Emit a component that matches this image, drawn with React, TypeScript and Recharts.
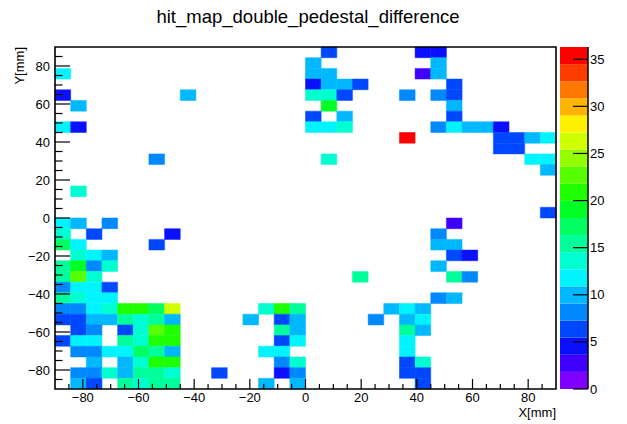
import { ScatterChart, XAxis, YAxis, ReferenceArea, BarChart, Bar } from "recharts";

const FONT = '"Liberation Sans", Arial, Helvetica, sans-serif';

const X_RANGE: [number, number] = [-90, 90];
const Y_RANGE: [number, number] = [-90, 90];
const N_BINS = 32;

// 20 contour colours, violet (low) to red (high)
const PALETTE = [
  "#7f00ff", "#4000ff", "#0a10ff", "#0048ff", "#0088ff",
  "#00b8ff", "#00f4ff", "#00ffd0", "#00ff9a", "#00ff60",
  "#00ff25", "#1eff00", "#58ff00", "#94ff00", "#d0ff00",
  "#fff000", "#ffb400", "#ff7800", "#ff3c00", "#ff0000",
];

const LABELLED_TICKS = [-80, -60, -40, -20, 0, 20, 40, 60, 80];
const PALETTE_TICKS = [0, 5, 10, 15, 20, 25, 30, 35];

// bin contents as [ix, iy, content]; bin indices start at the lower-left corner
const topLeftHits: [number, number, number][] = [
  [0, 29, 11.8], [0, 27, 4.6], [8, 27, 10.0], [1, 26, 9.8],
  [0, 24, 12.1], [1, 24, 4.4], [6, 21, 8.2], [1, 18, 13.5],
];

const topCenterHits: [number, number, number][] = [
  [17, 31, 6.4],
  [16, 30, 10.2],
  [16, 29, 9.9], [17, 29, 10.3],
  [16, 28, 4.5], [17, 28, 10.1], [18, 28, 9.7], [19, 28, 6.6],
  [16, 27, 13.4], [17, 27, 13.8], [18, 27, 6.3],
  [17, 26, 19.2],
  [16, 25, 6.8], [18, 25, 10.4],
  [16, 24, 11.6], [17, 24, 11.9], [18, 24, 13.3],
  [17, 21, 13.7],
];

const topRightHits: [number, number, number][] = [
  [23, 31, 4.3], [24, 31, 4.7],
  [24, 30, 10.0],
  [23, 29, 2.9], [24, 29, 9.8],
  [25, 28, 6.2],
  [22, 27, 8.1], [24, 27, 8.4], [25, 27, 6.5],
  [25, 26, 10.1],
  [25, 25, 6.3],
  [24, 24, 8.2], [25, 24, 11.7], [26, 24, 10.3], [27, 24, 9.9], [28, 24, 4.6],
  [22, 23, 36.3], [28, 23, 6.4], [29, 23, 6.7], [30, 23, 10.0], [31, 23, 11.9],
  [28, 22, 6.1], [29, 22, 6.6],
  [30, 21, 12.0], [31, 21, 11.5],
  [31, 20, 10.2],
  [31, 16, 6.4],
];

const bottomRightHits: [number, number, number][] = [
  [25, 15, 2.9],
  [24, 14, 8.3],
  [24, 13, 10.1], [25, 13, 9.8],
  [25, 12, 6.5], [26, 12, 4.5],
  [24, 11, 10.2],
  [19, 10, 15.3], [25, 10, 15.6], [26, 10, 8.1],
  [24, 8, 8.4], [25, 8, 10.0],
  [21, 7, 9.9], [22, 7, 11.8], [23, 7, 10.3],
  [20, 6, 8.2], [22, 6, 10.0], [23, 6, 12.0],
  [22, 5, 15.4], [23, 5, 10.1],
  [22, 4, 11.6],
  [22, 3, 11.9],
  [22, 2, 6.4], [23, 2, 13.5],
  [22, 1, 6.3], [23, 1, 6.6],
  [23, 0, 6.4],
];

const leftEdgeHits: [number, number, number][] = [
  [0, 15, 11.7], [1, 15, 10.0], [3, 15, 8.2],
  [0, 14, 13.6], [2, 14, 6.5], [7, 14, 4.5],
  [0, 13, 17.3], [1, 13, 11.8], [6, 13, 6.4],
  [1, 12, 13.4], [2, 12, 12.1], [3, 12, 10.2],
  [0, 11, 15.5], [1, 11, 19.0], [2, 11, 8.3], [3, 11, 13.6],
  [0, 10, 15.8], [1, 10, 22.6], [2, 10, 13.8],
  [0, 9, 8.1], [1, 9, 11.6], [2, 9, 12.0], [3, 9, 6.6],
  [0, 8, 15.2], [1, 8, 13.7], [2, 8, 11.8], [3, 8, 12.2],
  [0, 7, 8.3], [1, 7, 8.0], [2, 7, 11.9], [3, 7, 13.5], [4, 7, 20.8], [5, 7, 21.0], [6, 7, 17.4], [7, 7, 26.3],
  [0, 6, 6.5], [1, 6, 6.2], [2, 6, 10.1], [3, 6, 9.9], [4, 6, 15.6], [5, 6, 13.4], [6, 6, 15.3], [7, 6, 10.0],
  [1, 5, 6.6], [2, 5, 8.2], [4, 5, 6.3], [5, 5, 13.6], [6, 5, 22.5], [7, 5, 20.9],
  [0, 4, 6.4], [1, 4, 11.9], [2, 4, 11.7], [4, 4, 15.8], [5, 4, 13.5], [6, 4, 20.7], [7, 4, 21.1],
  [1, 3, 8.2], [2, 3, 8.4], [3, 3, 12.1], [4, 3, 11.8], [5, 3, 17.1], [6, 3, 15.6], [7, 3, 10.2],
  [2, 2, 10.0], [4, 2, 9.9], [5, 2, 13.7], [6, 2, 21.0], [7, 2, 20.6],
  [1, 1, 8.1], [2, 1, 8.3], [3, 1, 13.4], [4, 1, 10.1], [5, 1, 15.5], [6, 1, 15.3], [7, 1, 13.6],
  [1, 0, 10.2], [2, 0, 6.5], [4, 0, 15.4], [5, 0, 13.5], [6, 0, 15.7], [7, 0, 15.2],
];

const bottomCenterHits: [number, number, number][] = [
  [13, 7, 13.6], [14, 7, 21.0], [15, 7, 15.6],
  [12, 6, 10.0], [14, 6, 6.4], [15, 6, 9.9],
  [14, 5, 15.3], [15, 5, 10.1],
  [14, 4, 6.5], [15, 4, 11.8],
  [13, 3, 11.7], [14, 3, 12.0],
  [14, 2, 8.2], [15, 2, 13.6],
  [10, 1, 6.3], [14, 1, 4.7], [15, 1, 8.3],
  [13, 0, 10.0], [15, 0, 9.8],
];

const hits = [
  ...topLeftHits, ...topCenterHits, ...topRightHits,
  ...bottomRightHits, ...leftEdgeHits, ...bottomCenterHits,
];

const zMax = Math.max(...hits.map((h) => h[2]));
const binW = (X_RANGE[1] - X_RANGE[0]) / N_BINS;
const binH = (Y_RANGE[1] - Y_RANGE[0]) / N_BINS;

const colorFor = (z: number) =>
  PALETTE[Math.min(PALETTE.length - 1, Math.floor((z / zMax) * PALETTE.length))];

const cells = hits.map(([ix, iy, z]) => ({
  x1: X_RANGE[0] + ix * binW,
  x2: X_RANGE[0] + (ix + 1) * binW,
  y1: Y_RANGE[0] + iy * binH,
  y2: Y_RANGE[0] + (iy + 1) * binH,
  color: colorFor(z),
}));

// ticks every 5 mm, labels every 20 mm
const axisTicks: number[] = [];
for (let v = -85; v <= 85; v += 5) axisTicks.push(v);

// one stacked column, one band per contour level
const paletteRow = [
  {
    name: "z",
    ...Object.fromEntries(PALETTE.map((_, k) => [`b${k}`, zMax / PALETTE.length])),
  },
];

const fmt = (v: number) => (v < 0 ? `\u2212${-v}` : `${v}`);

const XTick = (props: any) => {
  const { x, y, payload } = props;
  const major = LABELLED_TICKS.includes(payload.value);
  return (
    <g>
      <line x1={x} x2={x} y1={y} y2={y - (major ? 10 : 5)} stroke="#000" strokeWidth={1.2} />
      {major && (
        <text x={x} y={y + 13} textAnchor="middle" fontSize={13} fontFamily={FONT} fill="#000">
          {fmt(payload.value)}
        </text>
      )}
    </g>
  );
};

const YTick = (props: any) => {
  const { x, y, payload } = props;
  const major = LABELLED_TICKS.includes(payload.value);
  return (
    <g>
      <line x1={x} x2={x + (major ? 15 : 7.5)} y1={y} y2={y} stroke="#000" strokeWidth={1.2} />
      {major && (
        <text x={x - 5} y={y} dy="0.35em" textAnchor="end" fontSize={13} fontFamily={FONT} fill="#000">
          {fmt(payload.value)}
        </text>
      )}
    </g>
  );
};

const PaletteTick = (props: any) => {
  const { x, y, payload } = props;
  return (
    <g>
      <line x1={x - 15} x2={x} y1={y} y2={y} stroke="#000" strokeWidth={1.2} />
      <text x={x + 2} y={y} dy="0.35em" textAnchor="start" fontSize={13} fontFamily={FONT} fill="#000">
        {payload.value}
      </text>
    </g>
  );
};

export default function App() {
  return (
    <div
      style={{
        position: "absolute",
        left: 0,
        top: 0,
        width: 627,
        height: 424,
        background: "#fff",
        fontFamily: FONT,
      }}
    >
      <div style={{ position: "absolute", left: 0, top: 0 }}>
        <ScatterChart width={627} height={424} margin={{ top: 47, right: 71, bottom: 5, left: 10 }}>
          {cells.map((c, i) => (
            <ReferenceArea
              key={i}
              x1={c.x1}
              x2={c.x2}
              y1={c.y1}
              y2={c.y2}
              fill={c.color}
              fillOpacity={1}
              stroke={c.color}
              strokeWidth={0.5}
            />
          ))}
          <ReferenceArea
            x1={X_RANGE[0]}
            x2={X_RANGE[1]}
            y1={Y_RANGE[0]}
            y2={Y_RANGE[1]}
            fill="none"
            fillOpacity={0}
            stroke="#000"
            strokeWidth={1.6}
          />
          <XAxis
            type="number"
            dataKey="x"
            domain={X_RANGE}
            ticks={axisTicks}
            interval={0}
            allowDataOverflow
            height={30}
            axisLine={false}
            tickLine={false}
            tickSize={0}
            tickMargin={0}
            tick={<XTick />}
          />
          <YAxis
            type="number"
            dataKey="y"
            domain={Y_RANGE}
            ticks={axisTicks}
            interval={0}
            allowDataOverflow
            width={45}
            axisLine={false}
            tickLine={false}
            tickSize={0}
            tickMargin={0}
            tick={<YTick />}
          />
        </ScatterChart>
      </div>

      <div style={{ position: "absolute", left: 557, top: 0 }}>
        <BarChart
          width={70}
          height={424}
          data={paletteRow}
          margin={{ top: 47, right: 0, bottom: 35, left: 3 }}
          barCategoryGap={0}
          barGap={0}
        >
          <XAxis dataKey="name" hide />
          {PALETTE.map((color, k) => (
            <Bar key={k} dataKey={`b${k}`} stackId="palette" fill={color} isAnimationActive={false} />
          ))}
          <YAxis
            orientation="right"
            type="number"
            domain={[0, zMax]}
            ticks={PALETTE_TICKS}
            interval={0}
            allowDataOverflow
            width={39}
            axisLine={{ stroke: "#000", strokeWidth: 1.5 }}
            tickLine={false}
            tickSize={0}
            tickMargin={0}
            tick={<PaletteTick />}
          />
        </BarChart>
      </div>

      <svg
        width={627}
        height={424}
        style={{ position: "absolute", left: 0, top: 0, pointerEvents: "none" }}
        fontFamily={FONT}
      >
        <text x={308} y={23} textAnchor="middle" fontSize={18.5} fill="#000">
          hit_map_double_pedestal_difference
        </text>
        <text x={556} y={417} textAnchor="end" fontSize={13} fill="#000">
          X[mm]
        </text>
        <text x={24} y={47} transform="rotate(-90 24 47)" textAnchor="end" fontSize={13} fill="#000">
          Y[mm]
        </text>
      </svg>
    </div>
  );
}
